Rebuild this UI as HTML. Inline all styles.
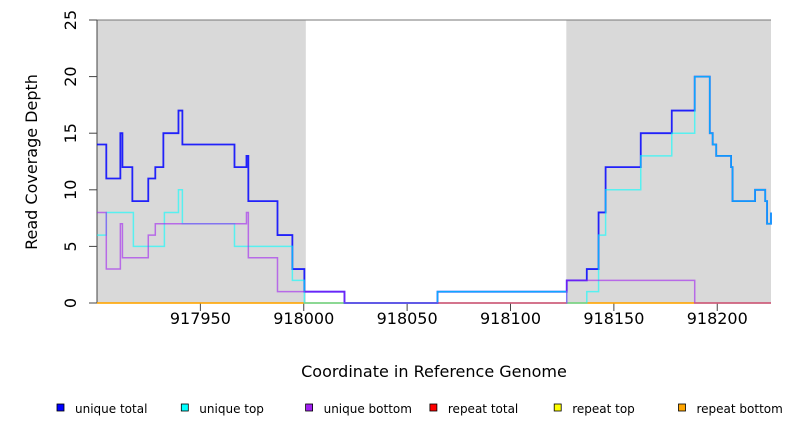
<!DOCTYPE html>
<html><head><meta charset="utf-8"><style>
body{margin:0;background:#fff;}
svg{display:block;font-family:"DejaVu Sans","Liberation Sans",sans-serif;}
</style></head><body>
<svg id="chart" width="792" height="432" viewBox="0 0 792 432" xmlns="http://www.w3.org/2000/svg"></svg>
<script>
const xTicks=[917950,918000,918050,918100,918150,918200];
const yTicks=[0,5,10,15,20,25];
const regions=[[917900,918001],[918127,918226]];
const totalX=[917900,917904.5,917911.3,917912.3,917917.1,917924.8,917928.2,917932.1,917939.4,917941.3,917966.5,917972.3,917973.2,917987.3,917994.5,918000.3,918019.7,918064.7,918127.2,918136.9,918142.6,918146,918163,918178,918189.1,918196.4,918197.8,918199.5,918206.7,918207.4,918218.3,918223.2,918224.1,918226];
const totalY=[14,11,15,12,9,11,12,15,17,14,12,13,9,6,3,1,0,1,2,3,8,12,15,17,20,15,14,13,12,9,10,9,7,8];
const topX=[917900,917904.5,917917.6,917932.6,917939.4,917941.3,917966.5,917994.5,918000.3,918064.7,918127.2,918136.9,918142.6,918146,918163,918178,918189.1,918196.4,918197.8,918199.5,918206.7,918207.4,918218.3,918223.2,918224.1,918226];
const topY=[6,8,5,8,10,7,5,2,0,1,0,1,6,10,13,15,20,15,14,13,12,9,10,9,7,8];
const bottomX=[917900,917904.5,917911.3,917912.3,917924.8,917928.2,917972.3,917973.2,917987.3,918019.7,918127.2,918189.1,918226];
const bottomY=[8,3,7,4,6,7,8,4,1,0,2,0,0];
const legendLabels=["unique total","unique top","unique bottom","repeat total","repeat top","repeat bottom"];
const legendColors=["#0000ff","#00ffff","#a020f0","#ff0000","#ffff00","#ffa500"];

const svg=document.getElementById('chart');
const NS='http://www.w3.org/2000/svg';
const X0=917900,X1=918226,PX0=97,PX1=771,PY0=303,PY1=20;
const sx=v=>PX0+(v-X0)*(PX1-PX0)/(X1-X0);
const sy=v=>PY0-(v)*(PY0-PY1)/25;
function mk(tag,attrs,parent){const e=document.createElementNS(NS,tag);for(const k in attrs)e.setAttribute(k,attrs[k]);(parent||svg).appendChild(e);return e;}

regions.forEach((r,i)=>{
 const e=mk('rect',{x:sx(r[0]),y:PY1,width:sx(r[1])-sx(r[0]),height:PY0-PY1,fill:'#d9d9d9'});
 
 
});
mk('line',{x1:PX0,y1:PY1,x2:PX1,y2:PY1,stroke:'#777','stroke-width':1});
const ya=mk('line',{x1:PX0,y1:PY1,x2:PX0,y2:PY0,stroke:'#444','stroke-width':1});



yTicks.forEach(t=>{
 mk('line',{x1:PX0-8,y1:sy(t),x2:PX0,y2:sy(t),stroke:'#444'});
 const tx=mk('text',{x:76,y:sy(t),'font-size':16,'text-anchor':'middle',transform:`rotate(-90 76 ${sy(t)})`,fill:'#000'});
 tx.textContent=t;
 
 
});
xTicks.forEach(t=>{
 mk('line',{x1:sx(t),y1:PY0,x2:sx(t),y2:PY0+8,stroke:'#444'});
 const tx=mk('text',{x:sx(t),y:PY0+21,'font-size':16,'text-anchor':'middle',fill:'#000'});
 tx.textContent=t;
 
 
});

function step(xs,ys,color,name,w,op){
 let d='M'+sx(xs[0])+' '+sy(ys[0]);
 for(let i=1;i<xs.length;i++){d+=' H'+sx(xs[i]);if(i<ys.length)d+=' V'+sy(ys[i]);}
 const p=mk('path',{d:d,fill:'none',stroke:color,'stroke-width':w,'stroke-opacity':op});
 
 
}
step([X0,X1],[0,0],'#ff0000','repeat-total-line',1.5,0.6);
step([X0,X1],[0,0],'#ffff00','repeat-top-line',1.5,0.6);
step([X0,X1],[0,0],'#ffa500','repeat-bottom-line',1.5,0.6);
step(totalX,totalY,'#0000ff','unique-total-line',1.8,0.85);
step(topX,topY,'#00ffff','unique-top-line',1.5,0.6);
step(bottomX,bottomY,'#a020f0','unique-bottom-line',1.5,0.6);

const xl=mk('text',{x:434,y:377,'font-size':16,'text-anchor':'middle'});
xl.textContent='Coordinate in Reference Genome';


const yl=mk('text',{x:37,y:162,'font-size':16,'text-anchor':'middle',transform:'rotate(-90 37 162)'});
yl.textContent='Read Coverage Depth';



legendLabels.forEach((l,i)=>{
 const gx=57+i*124.3;
 const g=mk('g',{});
 
 
 mk('rect',{x:gx,y:404,width:7,height:7,fill:legendColors[i],stroke:'#000','stroke-width':0.8},g);
 const t=mk('text',{x:gx+18,y:413,'font-size':12},g);
 t.textContent=l;
});
</script>
</body></html>
